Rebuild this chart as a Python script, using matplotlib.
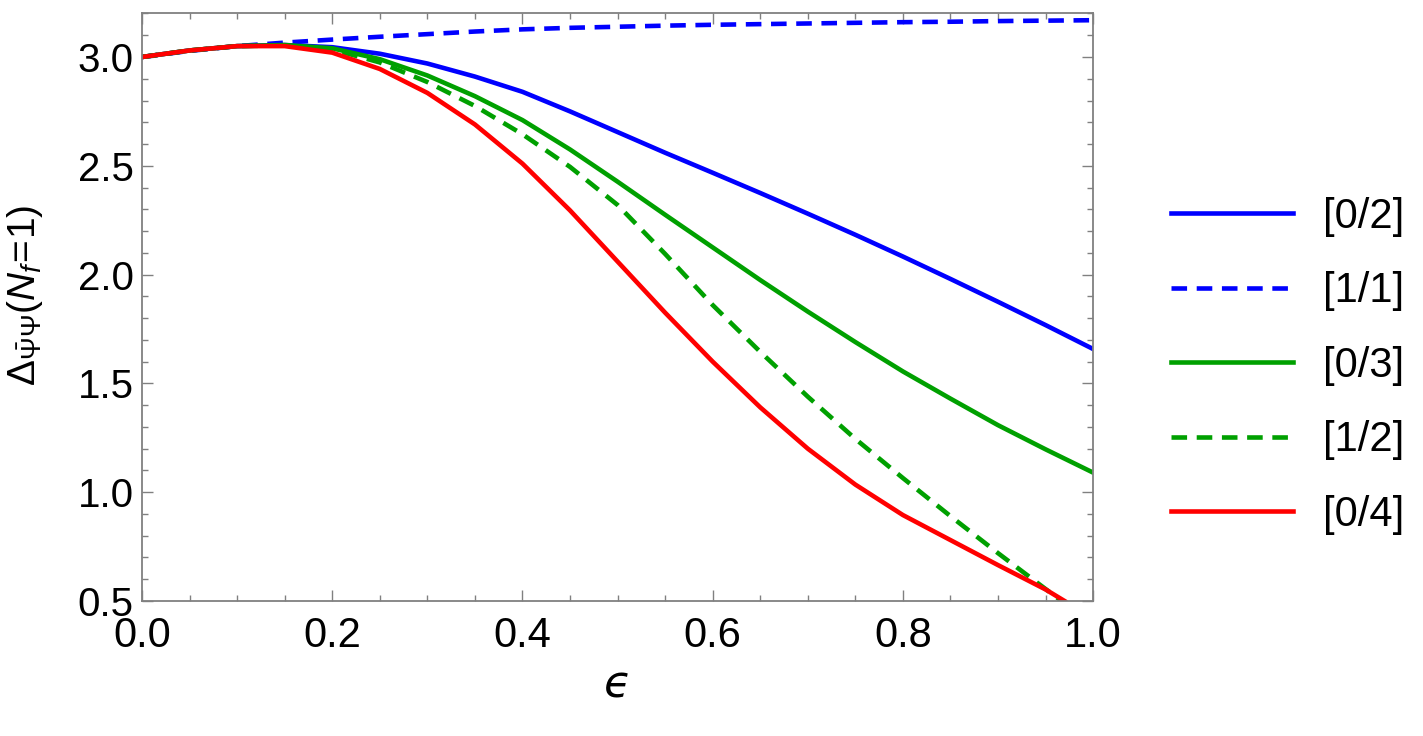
import matplotlib
matplotlib.use("Agg")
import matplotlib.pyplot as plt
from matplotlib.ticker import MultipleLocator

plt.rcParams['font.family'] = ['Liberation Sans', 'DejaVu Sans']
plt.rcParams['mathtext.fontset'] = 'custom'
plt.rcParams['mathtext.rm'] = 'Liberation Sans'
plt.rcParams['mathtext.it'] = 'Liberation Sans:italic'

# epsilon grid and approximant values
eps = [0.0, 0.05, 0.1, 0.15, 0.2, 0.25, 0.3, 0.35, 0.4, 0.45, 0.5,
       0.55, 0.6, 0.65, 0.7, 0.75, 0.8, 0.85, 0.9, 0.95, 1.0]
pade_0_2 = [3.0, 3.03, 3.05, 3.055, 3.045, 3.015, 2.97, 2.91, 2.84, 2.75, 2.655,
            2.56, 2.468, 2.375, 2.28, 2.183, 2.083, 1.98, 1.875, 1.768, 1.658]
pade_1_1 = [3.0, 3.028, 3.05, 3.066, 3.08, 3.093, 3.105, 3.117, 3.127, 3.134, 3.139,
            3.144, 3.148, 3.151, 3.154, 3.157, 3.16, 3.162, 3.165, 3.167, 3.169]
pade_0_3 = [3.0, 3.03, 3.05, 3.055, 3.04, 2.99, 2.915, 2.82, 2.71, 2.575, 2.427,
            2.275, 2.125, 1.975, 1.83, 1.69, 1.555, 1.43, 1.308, 1.197, 1.09]
eps_1_2 = [0.0, 0.05, 0.1, 0.15, 0.2, 0.25, 0.3, 0.35, 0.4, 0.45, 0.5,
           0.55, 0.6, 0.65, 0.7, 0.75, 0.8, 0.85, 0.9, 0.95, 0.967]
pade_1_2 = [3.0, 3.03, 3.05, 3.053, 3.035, 2.975, 2.885, 2.775, 2.645, 2.495, 2.32,
            2.095, 1.86, 1.645, 1.439, 1.245, 1.065, 0.89, 0.72, 0.555, 0.5]
eps_0_4 = [0.0, 0.05, 0.1, 0.15, 0.2, 0.25, 0.3, 0.35, 0.4, 0.45, 0.5,
           0.55, 0.6, 0.65, 0.7, 0.75, 0.8, 0.85, 0.9, 0.95, 0.97]
pade_0_4 = [3.0, 3.03, 3.05, 3.05, 3.02, 2.945, 2.835, 2.69, 2.51, 2.295, 2.06,
            1.825, 1.60, 1.39, 1.20, 1.035, 0.895, 0.78, 0.665, 0.553, 0.5]

BLUE = "#0000ff"
GREEN = "#00a000"
RED = "#ff0000"
FRAME = "#808080"
LW = 3.3
DASH = (3.4, 2.1)

fig = plt.figure(figsize=(14.23, 7.36), dpi=100)
ax = fig.add_axes([0.0998, 0.1834, 0.6684, 0.7983])

ax.plot(eps, pade_0_2, color=BLUE, lw=LW, label="[0/2]")
ax.plot(eps, pade_1_1, color=BLUE, lw=LW, dashes=DASH, label="[1/1]")
ax.plot(eps, pade_0_3, color=GREEN, lw=LW, label="[0/3]")
ax.plot(eps_1_2, pade_1_2, color=GREEN, lw=LW, dashes=DASH, label="[1/2]")
ax.plot(eps_0_4, pade_0_4, color=RED, lw=LW, label="[0/4]")

ax.set_xlim(0, 1)
ax.set_ylim(0.5, 3.2)

ax.xaxis.set_major_locator(MultipleLocator(0.2))
ax.xaxis.set_minor_locator(MultipleLocator(0.05))
ax.yaxis.set_major_locator(MultipleLocator(0.5))
ax.yaxis.set_minor_locator(MultipleLocator(0.1))
ax.xaxis.set_major_formatter(lambda v, p: f"{v:.1f}")
ax.yaxis.set_major_formatter(lambda v, p: f"{v:.1f}")

for s in ax.spines.values():
    s.set_color(FRAME)
    s.set_linewidth(1.3)
ax.tick_params(which="both", direction="in", top=True, right=True, color=FRAME, width=1.0)
ax.tick_params(which="major", length=8)
ax.tick_params(which="minor", length=4.5)
ax.tick_params(axis="y", labelsize=29, pad=6)
ax.tick_params(axis="x", labelsize=30, pad=11)

ax.set_xlabel("ϵ", fontsize=32, family="DejaVu Sans", style="italic", labelpad=5)
ax.set_ylabel(r"$\Delta_{\bar{\Psi}\Psi}(N_f\!=\!1)$", fontsize=28)
ax.yaxis.set_label_coords(-0.102, 0.52)

leg = ax.legend(loc="center left", bbox_to_anchor=(0.8229, 0.503), bbox_transform=fig.transFigure,
                frameon=False, fontsize=30, handlelength=2.93, handletextpad=0.72,
                labelspacing=0.83, borderpad=0, borderaxespad=0)

fig.savefig("out.png", dpi=100)
